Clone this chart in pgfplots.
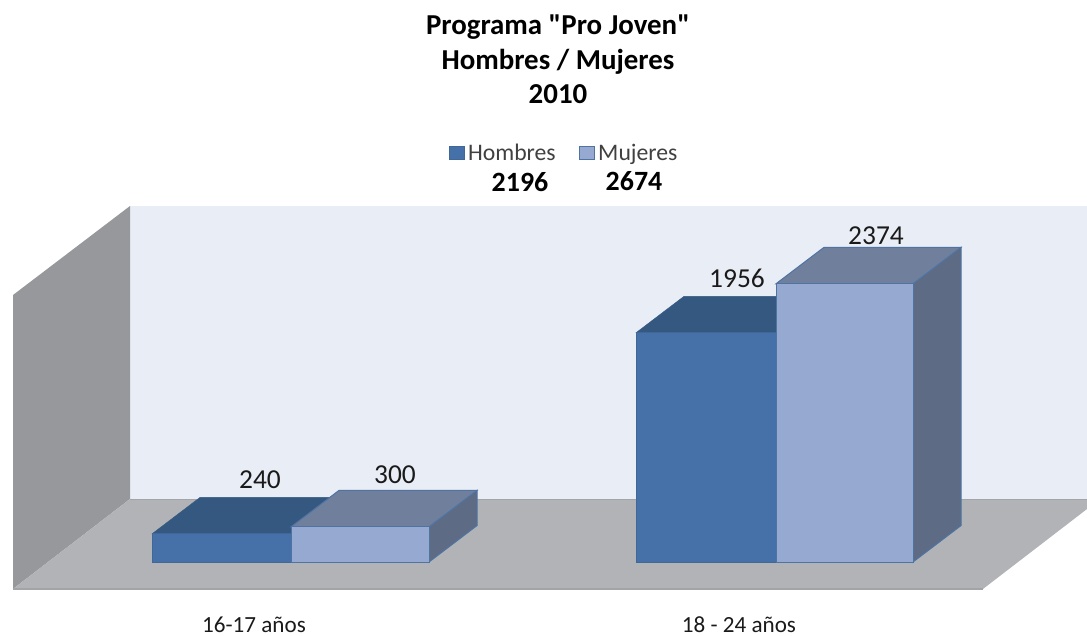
\documentclass[border=0pt]{standalone}
\usepackage{pgfplots}
\pgfplotsset{compat=1.18}
\usepackage{fontspec}
\setmainfont{Carlito}[Ligatures=TeXOff]
\definecolor{wallback}{HTML}{E9EDF6}
\definecolor{wallside}{HTML}{96989B}
\definecolor{floorc}{HTML}{B1B3B6}
\definecolor{floorline}{HTML}{A2A4A7}
\definecolor{hfront}{HTML}{4571A8}
\definecolor{htop}{HTML}{34587F}
\definecolor{hline}{HTML}{3F6899}
\definecolor{mfront}{HTML}{96A9D0}
\definecolor{mtop}{HTML}{6F7F9C}
\definecolor{mside}{HTML}{5E6B85}
\definecolor{mline}{HTML}{4F74A3}
\definecolor{labelc}{HTML}{1A1A1A}
\newcommand{\fs}[1]{\fontsize{#1}{#1}\selectfont}

\begin{document}
\begin{tikzpicture}
\path[use as bounding box] (0,0) rectangle (1087bp,636bp);
% x is in picture pixels, y in persons: 0 sits on the bar base, 1 person = 0.1172 px
\begin{axis}[
    at={(0,0)}, anchor=south west,
    scale only axis, width=1087bp, height=636bp,
    xmin=0, xmax=1087, ymin=-631.4, ymax=4795.2,
    axis lines=none, clip=false,
    legend style={draw=none, fill=none, at={(axis cs:564,3490)}, anchor=center,
        font=\fs{23.8}\color{black!75}, legend columns=2, inner sep=0pt,
        /tikz/every even column/.append style={column sep=21bp}},
    legend cell align=left,
    legend image code/.code={\draw[#1] (0bp,-6.5bp) rectangle (15bp,6.5bp); \path[draw=none,fill=none] (0bp,0bp) -- (17bp,0bp);},
]
% walls and floor
\addplot[fill=wallback, draw=none, forget plot] coordinates {(130,3037.5)(1087,3037.5)(1087,537.5)(130,537.5)} --cycle;
\addplot[fill=wallside, draw=none, forget plot] coordinates {(13,2278)(130,3037.5)(130,537.5)(13,-230)} --cycle;
\addplot[fill=floorc, draw=none, forget plot] coordinates {(13,-230)(130,537.5)(1087,537.5)(1087,452)(983,-230)} --cycle;
\addplot[floorline, line width=1pt, forget plot] coordinates {(130,537.5)(1087,537.5)};
\addplot[floorline, line width=1.2pt, forget plot] coordinates {(13,-230)(983,-230)};

% Hombres 16-17: 240
\addplot[fill=htop, draw=htop, forget plot] coordinates {(152,240)(291,240)(339,551)(200,551)} --cycle;
\addplot[fill=hfront, draw=hline, line width=1pt, forget plot] coordinates {(152,0)(291,0)(291,240)(152,240)} --cycle;
% Mujeres 16-17: 300
\addplot[fill=mside, draw=mline, line width=1pt, forget plot] coordinates {(429,0)(477,311)(477,611)(429,300)} --cycle;
\addplot[fill=mtop, draw=mline, line width=1pt, forget plot] coordinates {(291,300)(429,300)(477,611)(339,611)} --cycle;
\addplot[fill=mfront, draw=mline, line width=1pt, forget plot] coordinates {(291,0)(429,0)(429,300)(291,300)} --cycle;
% Hombres 18-24: 1956
\addplot[fill=htop, draw=htop, forget plot] coordinates {(636,1956)(776,1956)(824,2267)(684,2267)} --cycle;
\addplot[fill=hfront, draw=hline, line width=1pt, forget plot] coordinates {(636,0)(776,0)(776,1956)(636,1956)} --cycle;
% Mujeres 18-24: 2374
\addplot[fill=mside, draw=mline, line width=1pt, forget plot] coordinates {(913,0)(961,311)(961,2685)(913,2374)} --cycle;
\addplot[fill=mtop, draw=mline, line width=1pt, forget plot] coordinates {(776,2374)(913,2374)(961,2685)(824,2685)} --cycle;
\addplot[fill=mfront, draw=mline, line width=1pt, forget plot] coordinates {(776,0)(913,0)(913,2374)(776,2374)} --cycle;

\addlegendimage{fill=hfront, draw=hline, line width=1pt}
\addlegendentry{Hombres}
\addlegendimage{fill=mfront, draw=mline, line width=1pt}
\addlegendentry{Mujeres}

% title
\node[font=\fs{29}\bfseries, inner sep=0pt, anchor=base, text=black] at (axis cs:558,4501) {Programa "Pro Joven"};
\node[font=\fs{29}\bfseries, inner sep=0pt, anchor=base, text=black] at (axis cs:558,4198) {Hombres / Mujeres};
\node[font=\fs{29}\bfseries, inner sep=0pt, anchor=base, text=black] at (axis cs:558,3908) {2010};
% totals
\node[font=\fs{28}\bfseries, inner sep=0pt, anchor=base, text=black] at (axis cs:520,3157) {2196};
\node[font=\fs{28}\bfseries, inner sep=0pt, anchor=base, text=black] at (axis cs:634,3170) {2674};
% bar labels
\node[font=\fs{27.5}, inner sep=0pt, anchor=base, text=labelc] at (axis cs:260,623) {240};
\node[font=\fs{27.5}, inner sep=0pt, anchor=base, text=labelc] at (axis cs:395,666) {300};
\node[font=\fs{27.5}, inner sep=0pt, anchor=base, text=labelc] at (axis cs:737,2346) {1956};
\node[font=\fs{27.5}, inner sep=0pt, anchor=base, text=labelc] at (axis cs:876,2713) {2374};
% categories
\node[font=\fs{23.2}, inner sep=0pt, anchor=base, text=labelc] at (axis cs:254,-605) {16-17 años};
\node[font=\fs{23.2}, inner sep=0pt, anchor=base, text=labelc] at (axis cs:739,-605) {18 - 24 años};
\end{axis}
\end{tikzpicture}
\end{document}
